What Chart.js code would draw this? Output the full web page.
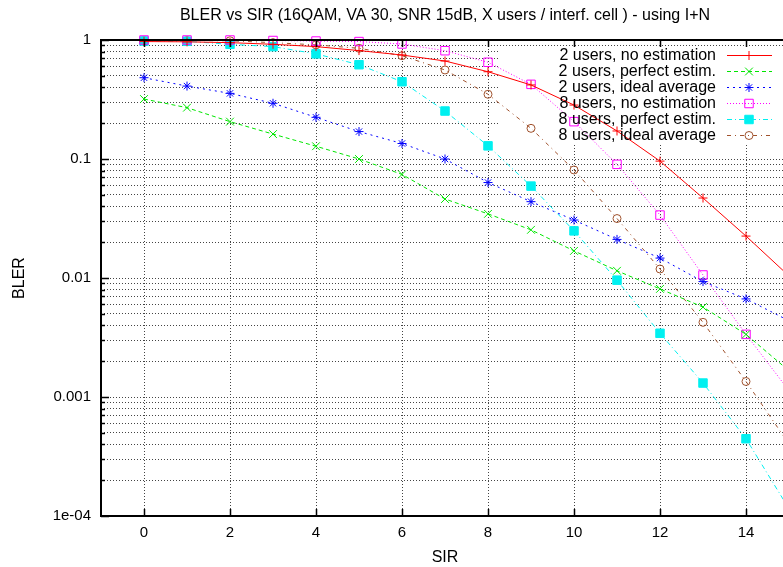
<!DOCTYPE html>
<html>
<head>
<meta charset="utf-8">
<script src="https://cdn.jsdelivr.net/npm/chart.js@4.4.1/dist/chart.umd.min.js"></script>
<style>
  html, body { margin: 0; padding: 0; background: #fff; overflow: hidden; }
  #wrap { width: 783px; height: 567px; overflow: hidden; }
</style>
</head>
<body>
<div id="wrap"><canvas id="chart" width="800" height="567"></canvas></div>
<script>
// SIR values (x) and BLER per curve
const sir = [0, 1, 2, 3, 4, 5, 6, 7, 8, 9, 10, 11, 12, 13, 14, 15];
const twoNoEst    = [0.97, 0.965, 0.95, 0.92, 0.88, 0.815, 0.748, 0.666, 0.541, 0.419, 0.284, 0.172, 0.096, 0.047, 0.0225, 0.0104];
const twoPerfect  = [0.319, 0.270, 0.206, 0.162, 0.128, 0.100, 0.0742, 0.0461, 0.0346, 0.0254, 0.0169, 0.0115, 0.0081, 0.0057, 0.00336, 0.00166];
const twoIdeal    = [0.482, 0.410, 0.356, 0.294, 0.224, 0.170, 0.135, 0.100, 0.0634, 0.0438, 0.0307, 0.0211, 0.0147, 0.00933, 0.00667, 0.00437];
const eightNoEst  = [1.0, 1.0, 1.0, 0.99, 0.98, 0.97, 0.926, 0.813, 0.65, 0.424, 0.206, 0.0902, 0.0338, 0.0106, 0.00336, 0.00113];
const eightPerfect = [0.98, 0.975, 0.92, 0.88, 0.765, 0.62, 0.446, 0.253, 0.129, 0.0592, 0.0249, 0.00959, 0.00343, 0.00131, 0.000446, 0.000115];
const eightIdeal  = [0.99, 0.99, 0.985, 0.95, 0.91, 0.852, 0.738, 0.56, 0.35, 0.181, 0.0809, 0.0316, 0.0119, 0.00424, 0.00135, 0.000403];

const seriesLabels = [
  '2 users, no estimation',
  '2 users, perfect estim.',
  '2 users, ideal average',
  '8 users, no estimation',
  '8 users, perfect estim.',
  '8 users, ideal average'
];

const xTicks = [0, 2, 4, 6, 8, 10, 12, 14];
const yDecades = [1e-4, 1e-3, 1e-2, 1e-1, 1];
const yDecadeLabels = ['1e-04', '0.001', '0.01', '0.1', '1'];

const titleText = 'BLER vs SIR (16QAM, VA 30, SNR 15dB, X users / interf. cell ) - using I+N';
const FONT = "'Liberation Sans', Arial, Helvetica, sans-serif";

// all ticks on the log axis: decades plus 2..9 minors
const yTicks = [];
yDecades.forEach(function(d, i) {
  yTicks.push(d);
  if (i < yDecades.length - 1) {
    for (let m = 2; m <= 9; m++) yTicks.push(+(d * m).toPrecision(3));
  }
});

function pts(values) {
  return sir.map(function(x, i) { return { x: x, y: values[i] }; });
}

function makeSet(label, values, color, dash, style, radius, fill) {
  return {
    label: label,
    data: pts(values),
    borderColor: color,
    borderWidth: 1,
    borderDash: dash,
    pointStyle: style,
    pointRadius: radius,
    pointHoverRadius: radius,
    pointBorderColor: color,
    pointBorderWidth: 1,
    pointBackgroundColor: fill ? color : 'rgba(255,255,255,0)',
    tension: 0,
    fill: false,
    clip: false
  };
}

const datasets = [
  makeSet(seriesLabels[0], twoNoEst, '#ff0000', [], 'cross', 4.5, false),
  makeSet(seriesLabels[1], twoPerfect, '#00e600', [4, 3], 'crossRot', 5.5, false),
  makeSet(seriesLabels[2], twoIdeal, '#0000ff', [2, 4], 'star', 4.5, false),
  makeSet(seriesLabels[3], eightNoEst, '#ff00ff', [1, 2], 'rect', 6, false),
  makeSet(seriesLabels[4], eightPerfect, '#00f0f0', [5, 3, 1, 3], 'rect', 6, true),
  makeSet(seriesLabels[5], eightIdeal, '#a0522d', [4, 4, 1, 4], 'circle', 4, false)
];

function drawFrame(chart) {
  const c = chart.ctx;
  const a = chart.chartArea;
  const xs = chart.scales.x;
  const ys = chart.scales.y;
  c.save();
  c.setLineDash([]);
  c.strokeStyle = '#000000';
  c.lineWidth = 2;
  c.beginPath();
  c.moveTo(a.left, a.top);
  c.lineTo(a.right, a.top);
  c.lineTo(a.right, a.bottom);
  c.lineTo(a.left, a.bottom);
  c.closePath();
  c.stroke();
  c.lineWidth = 1.5;
  c.beginPath();
  ys.ticks.forEach(function(t) {
    const y = Math.round(ys.getPixelForValue(t.value)) + 0.5;
    const len = yDecades.indexOf(t.value) >= 0 ? 8 : 4;
    c.moveTo(a.left, y);
    c.lineTo(a.left + len, y);
  });
  xs.ticks.forEach(function(t) {
    const x = Math.round(xs.getPixelForValue(t.value)) + 0.5;
    c.moveTo(x, a.bottom);
    c.lineTo(x, a.bottom - 7);
    c.moveTo(x, a.top);
    c.lineTo(x, a.top + 7);
  });
  c.stroke();
  c.restore();
}

// gnuplot-like frame, inward ticks, key box and title
const gnuplotLook = {
  id: 'gnuplotLook',
  beforeDatasetsDraw: function(chart) {
    const c = chart.ctx;
    const a = chart.chartArea;
    // key background hides grid but not curves
    c.save();
    c.fillStyle = '#fff';
    c.fillRect(a.right - 291, 47, 291, 96);
    c.restore();
  },
  afterDatasetsDraw: function(chart) {
    const c = chart.ctx;
    const a = chart.chartArea;

    drawFrame(chart);

    // key
    c.save();
    c.font = '16px ' + FONT;
    c.textAlign = 'right';
    c.textBaseline = 'middle';
    chart.data.datasets.forEach(function(ds, i) {
      const y = 55 + i * 16;
      c.fillStyle = '#000';
      c.fillText(ds.label, a.right - 73, y + 1);
      c.strokeStyle = ds.borderColor;
      c.lineWidth = 1;
      c.setLineDash(ds.borderDash);
      c.beginPath();
      c.moveTo(a.right - 62, y + 0.5);
      c.lineTo(a.right - 17, y + 0.5);
      c.stroke();
      c.setLineDash([]);
      c.fillStyle = ds.pointBackgroundColor;
      Chart.helpers.drawPoint(c, {
        pointStyle: ds.pointStyle,
        radius: ds.pointRadius,
        borderWidth: 1,
        rotation: 0
      }, a.right - 40, y + 0.5);
    });
    c.restore();

    // title
    c.save();
    c.font = '16px ' + FONT;
    c.fillStyle = '#000';
    c.textAlign = 'center';
    c.textBaseline = 'middle';
    c.fillText(titleText, (a.left + a.right) / 2, 16);
    c.restore();
  }
};

const ctx = document.getElementById('chart');
new Chart(ctx, {
  type: 'line',
  data: { datasets: datasets },
  plugins: [gnuplotLook],
  options: {
    responsive: false,
    animation: false,
    devicePixelRatio: 1,
    layout: { padding: { top: 40, right: 11, left: 0, bottom: 0 } },
    plugins: {
      legend: { display: false },
      title: { display: false },
      tooltip: { enabled: false }
    },
    scales: {
      x: {
        type: 'linear',
        min: -1,
        max: 15,
        afterBuildTicks: function(s) {
          s.ticks = xTicks.map(function(v) { return { value: v }; });
        },
        afterFit: function(s) { s.height = 51; },
        grid: { color: '#444', lineWidth: 1, drawTicks: false },
        border: { display: false, dash: [1, 2] },
        ticks: {
          color: '#000',
          font: { family: FONT, size: 15 },
          padding: 8,
          autoSkip: false,
          maxRotation: 0
        },
        title: {
          display: true,
          text: 'SIR',
          color: '#000',
          font: { family: FONT, size: 16 },
          padding: { top: 0, bottom: 0 }
        }
      },
      y: {
        type: 'logarithmic',
        min: 1e-4,
        max: 1,
        afterBuildTicks: function(s) {
          s.ticks = yTicks.map(function(v) { return { value: v }; });
        },
        afterFit: function(s) { s.width = 101; },
        grid: { color: '#444', lineWidth: 1, drawTicks: false },
        border: { display: false, dash: [1, 2] },
        ticks: {
          color: '#000',
          font: { family: FONT, size: 15 },
          padding: 10,
          autoSkip: false,
          callback: function(v) {
            const i = yDecades.indexOf(v);
            return i >= 0 ? yDecadeLabels[i] : '';
          }
        },
        title: {
          display: true,
          text: 'BLER',
          color: '#000',
          font: { family: FONT, size: 16 },
          padding: { top: 10, bottom: 0 }
        }
      }
    }
  }
});
</script>
</body>
</html>
